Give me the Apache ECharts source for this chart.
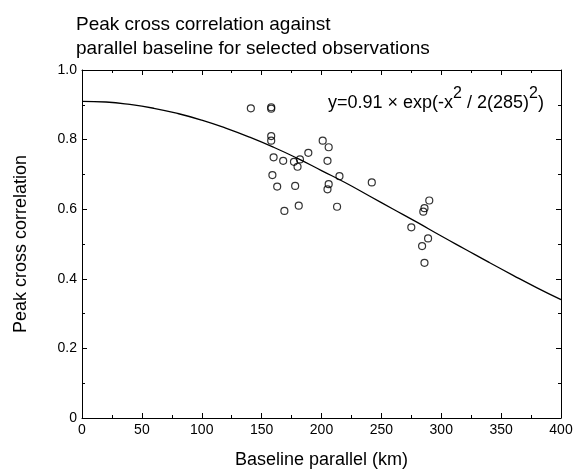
<!DOCTYPE html>
<html>
<head>
<meta charset="utf-8">
<script src="https://cdn.jsdelivr.net/npm/echarts@6/dist/echarts.min.js"></script>
<style>html,body{margin:0;padding:0;background:#fff}#c{width:576px;height:475px}</style>
</head>
<body>
<div id="c"></div>
<script>
// Observed points: baseline parallel (km), peak cross correlation
var obsX = [141, 158, 158, 158, 158, 201, 206, 189, 160, 168, 177, 182, 180, 205, 159, 163, 178, 206, 205, 169, 181, 213, 215, 242, 275, 289, 284, 286, 285, 286, 290];
var obsY = [0.890, 0.893, 0.889, 0.810, 0.797, 0.797, 0.778, 0.762, 0.749, 0.739, 0.736, 0.743, 0.722, 0.739, 0.698, 0.665, 0.667, 0.672, 0.657, 0.595, 0.610, 0.607, 0.695, 0.677, 0.548, 0.516, 0.494, 0.446, 0.593, 0.603, 0.625];
// Fitted curve
var fitX = [0, 20, 40, 60, 80, 100, 120, 140, 160, 180, 200, 220, 240, 260, 280, 300, 320, 340, 360, 380, 400];
var fitY = [0.910, 0.908, 0.901, 0.890, 0.875, 0.856, 0.833, 0.807, 0.778, 0.746, 0.711, 0.676, 0.638, 0.600, 0.562, 0.523, 0.485, 0.447, 0.410, 0.374, 0.340];
var xTicks = [0, 50, 100, 150, 200, 250, 300, 350, 400];
var yTicks = [0, 0.2, 0.4, 0.6, 0.8, 1.0];

var chart = echarts.init(document.getElementById('c'));
var fam = 'Liberation Sans, Arial, sans-serif';
function axisBase() {
  return {
    type: 'value',
    axisLine: {show: true, onZero: false, lineStyle: {color: '#000', width: 1}},
    axisTick: {show: true, inside: true, length: 5, lineStyle: {color: '#000'}},
    minorTick: {show: true, splitNumber: 2, length: 3, lineStyle: {color: '#000'}},
    splitLine: {show: false}
  };
}
var option = {
  animation: false,
  backgroundColor: '#fff',
  title: {
    text: 'Peak cross correlation against\nparallel baseline for selected observations',
    left: 71, top: 8,
    textStyle: {fontFamily: fam, fontSize: 19, fontWeight: 'normal', color: '#000', lineHeight: 24}
  },
  grid: {left: 82, right: 15, top: 70, bottom: 57},
  xAxis: [
    Object.assign(axisBase(), {
      position: 'bottom', min: 0, max: 400, interval: 50,
      axisLabel: {color: '#000', fontFamily: fam, fontSize: 14, margin: 5,
        formatter: function(v){ return xTicks.indexOf(v) >= 0 ? String(v) : ''; }},
      name: 'Baseline parallel (km)', nameLocation: 'middle', nameGap: 33,
      nameTextStyle: {color: '#000', fontFamily: fam, fontSize: 18}
    }),
    Object.assign(axisBase(), {
      position: 'top', min: 0, max: 400, interval: 50, axisLabel: {show: false}
    })
  ],
  yAxis: [
    Object.assign(axisBase(), {
      position: 'left', min: 0, max: 1, interval: 0.2,
      axisLabel: {color: '#000', fontFamily: fam, fontSize: 14, margin: 5,
        formatter: function(v){ return v === 0 ? '0' : v.toFixed(1); }},
      name: 'Peak cross correlation', nameLocation: 'middle', nameGap: 52, nameRotate: 90,
      nameTextStyle: {color: '#000', fontFamily: fam, fontSize: 18}
    }),
    Object.assign(axisBase(), {
      position: 'right', min: 0, max: 1, interval: 0.2, axisLabel: {show: false}
    })
  ],
  graphic: [{
    type: 'text', left: 328, top: 86,
    style: {
      text: '{b|y=0.91 × exp(-x}{s|2}{b| / 2(285)}{s|2}{b|)}',
      rich: {
        b: {fontFamily: fam, fontSize: 18, color: '#000', verticalAlign: 'bottom', lineHeight: 26},
        s: {fontFamily: fam, fontSize: 16, color: '#000', verticalAlign: 'top', lineHeight: 26}
      }
    }
  }],
  series: [
    {
      type: 'line', smooth: true, symbol: 'none',
      data: fitX.map(function(x, i){ return [x, fitY[i]]; }),
      lineStyle: {color: '#000', width: 1.3}
    },
    {
      type: 'scatter', symbol: 'circle', symbolSize: 7,
      data: obsX.map(function(x, i){ return [x, obsY[i]]; }),
      itemStyle: {color: 'rgba(255,255,255,0)', borderColor: '#000', borderWidth: 1.2}
    }
  ]
};
chart.setOption(option);
</script>
</body>
</html>
